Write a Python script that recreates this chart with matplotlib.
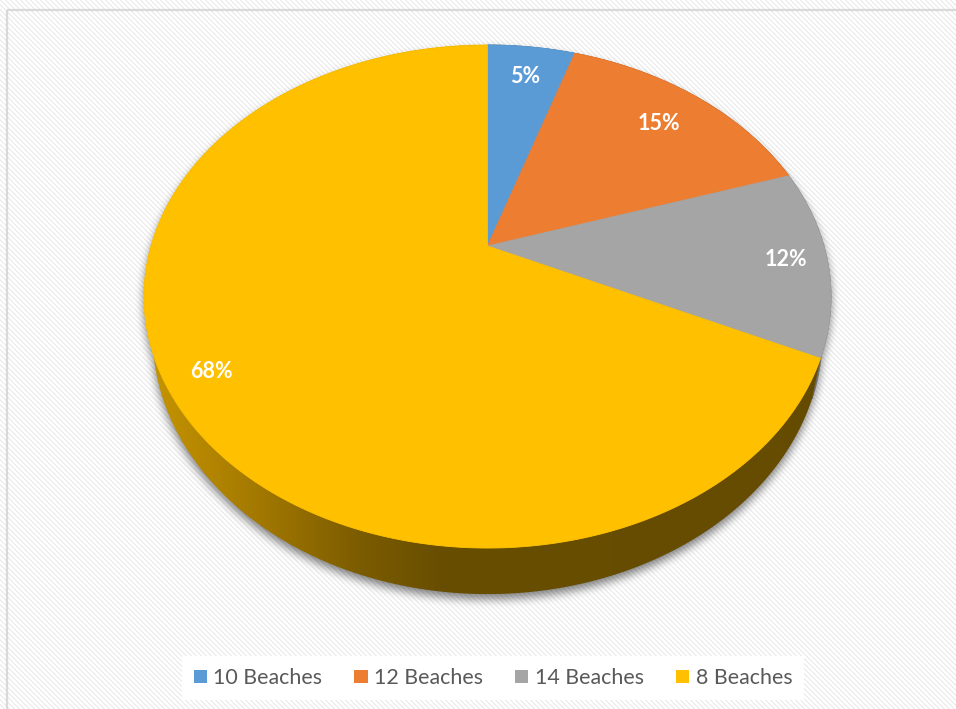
import numpy as np
import matplotlib
matplotlib.use("Agg")
import matplotlib.pyplot as plt
from matplotlib.patches import Polygon, Rectangle, Patch
from matplotlib.path import Path

# ---- data ----
categories = ["10 Beaches", "12 Beaches", "14 Beaches", "8 Beaches"]
shares = [5, 15, 12, 68]
colors = ["#5B9BD5", "#ED7D31", "#A5A5A5", "#FFC000"]
side_colors = ["#2f5f8a", "#8a4310", "#6b6b6b", None]

# ---- geometry of the tilted pie (pixel space, y down) ----
W, H = 956, 709
CX, CY = 487.5, 246.0      # pie centre on screen
SX, SY = 336.5, 241.4      # horizontal / vertical scale
K = 0.2008                 # perspective strength
DEPTH = 36.8               # thickness of the pie
BOTTOM_SHRINK = 0.975      # far (lower) rim looks slightly narrower

def project(theta_deg, r=1.0):
    t = np.radians(theta_deg)
    X = r * np.sin(t)
    Y = r * np.cos(t)
    w = 1.0 + K * Y
    return CX + SX * X / w, CY - SY * Y / w

def project_bottom(theta_deg):
    x, y = project(theta_deg)
    t = np.radians(theta_deg)
    return CX + (x - CX) * BOTTOM_SHRINK, y + DEPTH / (1.0 + K * np.cos(t))

fig = plt.figure(figsize=(W / 100, H / 100), dpi=100)
ax = fig.add_axes([0, 0, 1, 1])
ax.set_xlim(0, W)
ax.set_ylim(H, 0)
ax.axis("off")

# ---- striped background ----
yy, xx = np.mgrid[0:H, 0:W]
stripe = ((xx - yy) % 5) < 2
bg = np.where(stripe, 0.935, 1.0)
bg_rgb = np.dstack([bg, bg, bg])
ax.imshow(bg_rgb, extent=(0, W, H, 0), interpolation="nearest", zorder=0, aspect="auto")
ax.add_patch(Rectangle((7, 10), W + 20, H + 20, fill=False, edgecolor="#d9d9d9", lw=1.6, zorder=1))

# ---- angles of the slices (clockwise from 12 o'clock) ----
total = float(sum(shares))
bounds = np.concatenate([[0.0], np.cumsum(shares) / total * 360.0])

# ---- soft shadow under the pie ----
full = np.linspace(0, 360, 721)
tx, ty = project(full)
bx, by = project_bottom(full)
pts = np.column_stack([xx.ravel() + 0.5, yy.ravel() + 0.5])
shift = np.array([0.0, 5.0])
m_top = Path(np.column_stack([tx, ty]) + shift).contains_points(pts)
m_bot = Path(np.column_stack([bx, by]) + shift).contains_points(pts)
mask = (m_top | m_bot).reshape(H, W).astype(float)

def box_blur(a, r):
    k = 2 * r + 1
    p = np.pad(a, ((r, r), (0, 0)), mode="edge")
    c = np.vstack([np.zeros((1, p.shape[1])), np.cumsum(p, axis=0)])
    a = (c[k:] - c[:-k]) / k
    p = np.pad(a, ((0, 0), (r, r)), mode="edge")
    c = np.hstack([np.zeros((p.shape[0], 1)), np.cumsum(p, axis=1)])
    return (c[:, k:] - c[:, :-k]) / k

for _ in range(3):
    mask = box_blur(mask, 4)
shadow = np.zeros((H, W, 4))
shadow[..., 3] = mask * 0.5
ax.imshow(shadow, extent=(0, W, H, 0), interpolation="bilinear", zorder=2, aspect="auto")

# ---- side walls ----
grad_x = np.array([0, 145, 260, 360, 440, W], dtype=float)
grad_c = np.array([[205, 154, 0], [200, 150, 0], [162, 120, 0],
                   [124, 92, 0], [104, 78, 0], [100, 75, 0]], dtype=float) / 255.0
xs = np.arange(W) + 0.5
grad = np.stack([np.interp(xs, grad_x, grad_c[:, i]) for i in range(3)], axis=-1)
grad_img = np.repeat(grad[None, :, :], 2, axis=0)

for i in range(len(shares)):
    th = np.linspace(bounds[i], bounds[i + 1], 300)
    px, py = project(th)
    qx, qy = project_bottom(th)
    verts = np.vstack([np.column_stack([px, py]), np.column_stack([qx, qy])[::-1]])
    if side_colors[i] is None:
        poly = Polygon(verts, closed=True, facecolor="none", edgecolor="none", zorder=3)
        ax.add_patch(poly)
        im = ax.imshow(grad_img, extent=(0, W, H, 0), interpolation="bilinear",
                       zorder=3, aspect="auto")
        im.set_clip_path(poly)
    else:
        ax.add_patch(Polygon(verts, closed=True, facecolor=side_colors[i],
                             edgecolor=side_colors[i], lw=0.5, zorder=3))

# ---- top faces ----
for i in range(len(shares)):
    th = np.linspace(bounds[i], bounds[i + 1], 300)
    px, py = project(th)
    verts = np.vstack([[CX, CY], np.column_stack([px, py])])
    ax.add_patch(Polygon(verts, closed=True, facecolor=colors[i],
                         edgecolor=colors[i], lw=0.6, zorder=4))

# ---- value labels ----
label_r = [0.83, 0.80, 0.88, 0.88]
for i, v in enumerate(shares):
    mid = (bounds[i] + bounds[i + 1]) / 2.0
    lx, ly = project(mid, label_r[i])
    ax.text(lx, ly, f"{v}%", ha="center", va="center", color="white",
            fontsize=15.5, fontweight="bold", family=["Lato", "DejaVu Sans"], zorder=6)

# ---- legend ----
handles = [Patch(facecolor=c, edgecolor="none") for c in colors]
leg = ax.legend(handles, categories, loc="center", bbox_to_anchor=(493, 678),
                bbox_transform=ax.transData, ncol=4, frameon=True, fancybox=False,
                facecolor="white", edgecolor="none", framealpha=1.0,
                prop={"family": ["Lato", "DejaVu Sans"], "size": 15.4},
                handlelength=0.62, handleheight=0.62, handletextpad=0.3,
                columnspacing=1.5, borderpad=0.55, borderaxespad=0)
for t in leg.get_texts():
    t.set_color("#595959")
leg.set_zorder(7)

fig.savefig("out.png", dpi=100)
